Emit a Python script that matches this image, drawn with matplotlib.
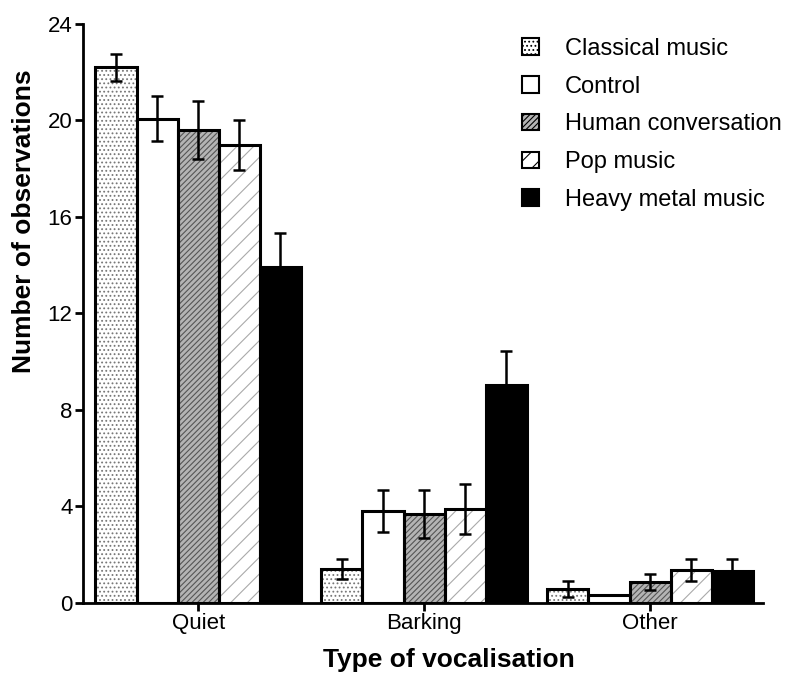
import numpy as np
import matplotlib
matplotlib.use("Agg")
from matplotlib import pyplot as plt
from matplotlib.patches import Patch

plt.rcParams['font.family'] = ['Liberation Sans', 'DejaVu Sans']
plt.rcParams['hatch.linewidth'] = 0.8

categories = ['Quiet', 'Barking', 'Other']
groups = ['Classical music', 'Control', 'Human conversation', 'Pop music', 'Heavy metal music']

# means and SEM, one list per condition
classical = [22.2, 1.41, 0.58]
control = [20.08, 3.82, 0.33]
human = [19.59, 3.69, 0.87]
pop = [19.0, 3.9, 1.37]
heavy = [13.94, 9.05, 1.33]

classical_err = [0.55, 0.42, 0.33]
control_err = [0.95, 0.87, 0.0]
human_err = [1.2, 1.0, 0.33]
pop_err = [1.04, 1.04, 0.46]
heavy_err = [1.41, 1.41, 0.5]

means = [classical, control, human, pop, heavy]
errs = [classical_err, control_err, human_err, pop_err, heavy_err]

# fill, hatch, hatch colour per condition
styles = [
    ('white', '....', '#777777'),
    ('white', '', 'black'),
    ('#b4b4b4', '//////', '#555555'),
    ('white', '//', '#aaaaaa'),
    ('black', '', 'black'),
]

fig = plt.figure(figsize=(7.94, 6.76), dpi=100)
ax = fig.add_axes([0.1045, 0.108, 0.8565, 0.8565])

x = np.arange(len(categories))
w = 0.182
for i, (m, e, (fc, h, hc)) in enumerate(zip(means, errs, styles)):
    pos = x + (i - 2) * w
    ax.bar(pos, m, w, color=fc, hatch=h, edgecolor=hc, linewidth=0, zorder=2)
    ax.bar(pos, m, w, fill=False, edgecolor='black', linewidth=2.2, zorder=3)
    ax.errorbar(pos, m, yerr=e, fmt='none', ecolor='black', elinewidth=1.8,
                capsize=4.5, capthick=1.8, zorder=4)

ax.set_xlim(-0.51, 2.5)
ax.set_ylim(0, 24)
ax.set_yticks([0, 4, 8, 12, 16, 20, 24])
ax.set_xticks(x)
ax.set_xticklabels(categories)
ax.tick_params(axis='both', width=2, length=5.5, labelsize=16, direction='out', pad=2)
for s in ['top', 'right']:
    ax.spines[s].set_visible(False)
for s in ['left', 'bottom']:
    ax.spines[s].set_linewidth(2)

ax.set_xlabel('Type of vocalisation', fontsize=19, fontweight='bold')
ax.set_ylabel('Number of observations', fontsize=19, fontweight='bold')
ax.xaxis.set_label_coords(0.538, -0.078)
ax.yaxis.set_label_coords(-0.069, 0.66)

handles = [Patch(facecolor=fc, hatch=h, edgecolor='black', linewidth=1.5)
           for fc, h, hc in styles]
ax.legend(handles, groups, loc='upper left', bbox_to_anchor=(0.615, 1.013),
          frameon=False, fontsize=17, handlelength=0.7, handleheight=0.7,
          labelspacing=0.67, handletextpad=1.1)

fig.savefig('out.png', dpi=100)
